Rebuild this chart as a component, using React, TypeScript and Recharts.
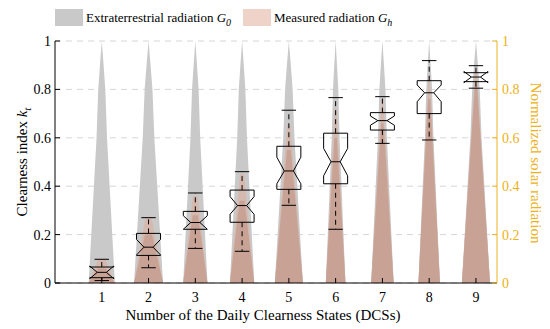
import React from 'react';
import { ComposedChart, Area, Bar, XAxis, YAxis, CartesianGrid } from 'recharts';

// DCS categories
const categories = [1, 2, 3, 4, 5, 6, 7, 8, 9];

// notched box plot of the clearness index per DCS
const whiskerLow = [0.01, 0.063, 0.143, 0.131, 0.321, 0.222, 0.577, 0.591, 0.805];
const q1 = [0.022, 0.114, 0.222, 0.251, 0.387, 0.41, 0.632, 0.7, 0.832];
const median = [0.044, 0.148, 0.25, 0.32, 0.463, 0.501, 0.671, 0.786, 0.851];
const q3 = [0.066, 0.205, 0.296, 0.384, 0.565, 0.619, 0.704, 0.836, 0.869];
const whiskerHigh = [0.098, 0.27, 0.372, 0.46, 0.714, 0.766, 0.77, 0.919, 0.898];
const notchLow = [0.018, 0.116, 0.222, 0.284, 0.41, 0.443, 0.652, 0.749, 0.828];
const notchHigh = [0.07, 0.18, 0.278, 0.357, 0.52, 0.556, 0.69, 0.818, 0.874];

// daily radiation profiles (half day length in x units)
const dayHalfWidth = [0.28, 0.31, 0.26, 0.26, 0.3, 0.21, 0.24, 0.23, 0.3];
const profileHeights = [0, 0.2, 0.4, 0.6, 0.8, 0.9, 1];
const profileWidthShare = [1, 0.8, 0.6, 0.4, 0.27, 0.14, 0];
const measuredPeak = [0.06, 0.2, 0.28, 0.34, 0.55, 0.6, 0.66, 0.76, 0.82];
const measuredUpperPeak = [0.1, 0.27, 0.36, 0.45, 0.65, 0.72, 0.76, 0.85, 0.88];
const measuredTopShare = [0.3, 0.3, 0.3, 0.3, 0.3, 0.3, 0.3, 0.4, 0.4];

const yTicks = [0, 0.2, 0.4, 0.6, 0.8, 1];

const FONT = '"Liberation Serif", "Times New Roman", serif';
const ORANGE = '#EDB120';
const BOX_W = 24;

const boxData = categories.map((c, i) => ({
  x: c,
  range: [whiskerLow[i], whiskerHigh[i]],
  wl: whiskerLow[i],
  q1: q1[i],
  med: median[i],
  q3: q3[i],
  wh: whiskerHigh[i],
  nl: notchLow[i],
  nh: notchHigh[i],
}));

const extraData: { x: number; g: number }[] = [];
categories.forEach((c, i) => {
  const w = dayHalfWidth[i];
  profileHeights.forEach((h, j) => extraData.push({ x: c - w * profileWidthShare[j], g: h }));
  for (let j = profileHeights.length - 2; j >= 0; j--) {
    extraData.push({ x: c + w * profileWidthShare[j], g: profileHeights[j] });
  }
});

function measuredShape(peaks: number[]) {
  const out: { x: number; g: number }[] = [];
  categories.forEach((c, i) => {
    const w = dayHalfWidth[i];
    const t = w * measuredTopShare[i] * (1 - peaks[i]);
    out.push({ x: c - w, g: 0 });
    out.push({ x: c - t, g: peaks[i] });
    out.push({ x: c + t, g: peaks[i] });
    out.push({ x: c + w, g: 0 });
  });
  return out;
}
const measuredData = measuredShape(measuredPeak);
const measuredUpperData = measuredShape(measuredUpperPeak);

function NotchBox(props: any) {
  const { x, y, width, height, payload } = props;
  if (!payload) return null;
  const top = Math.min(y, y + height);
  const span = Math.abs(height);
  const k = span / (payload.wh - payload.wl);
  const py = (v: number) => top + (payload.wh - v) * k;
  const cx = x + width / 2;
  const l = cx - BOX_W / 2;
  const r = cx + BOX_W / 2;
  const inset = BOX_W * 0.31;
  const cap = BOX_W * 0.3;
  const pts = [
    [l, py(payload.q3)],
    [l, py(payload.nh)],
    [l + inset, py(payload.med)],
    [l, py(payload.nl)],
    [l, py(payload.q1)],
    [r, py(payload.q1)],
    [r, py(payload.nl)],
    [r - inset, py(payload.med)],
    [r, py(payload.nh)],
    [r, py(payload.q3)],
  ]
    .map((p) => p.join(','))
    .join(' ');
  return (
    <g>
      <line x1={cx} x2={cx} y1={py(payload.q3)} y2={py(payload.wh)} stroke="#000" strokeDasharray="5 4" />
      <line x1={cx} x2={cx} y1={py(payload.q1)} y2={py(payload.wl)} stroke="#000" strokeDasharray="5 4" />
      <line x1={cx - cap} x2={cx + cap} y1={py(payload.wh)} y2={py(payload.wh)} stroke="#000" />
      <line x1={cx - cap} x2={cx + cap} y1={py(payload.wl)} y2={py(payload.wl)} stroke="#000" />
      <polygon points={pts} fill="none" stroke="#000" />
      <line x1={l + inset} x2={r - inset} y1={py(payload.med)} y2={py(payload.med)} stroke="#000" />
    </g>
  );
}

const BottomTick = (props: any) => {
  const { x, y, payload } = props;
  return (
    <g>
      <line x1={x} x2={x} y1={y} y2={y - 5} stroke="#000" />
      <text x={x} y={y + 19} textAnchor="middle" fontSize={14} fontFamily={FONT} fill="#000">
        {payload.value}
      </text>
    </g>
  );
};

const TopTick = (props: any) => {
  const { x, y } = props;
  return <line x1={x} x2={x} y1={y} y2={y + 5} stroke="#000" />;
};

const LeftTick = (props: any) => {
  const { x, y, payload } = props;
  return (
    <g>
      <line x1={x} x2={x + 5} y1={y} y2={y} stroke="#000" />
      <text x={x - 4} y={y + 5} textAnchor="end" fontSize={14} fontFamily={FONT} fill="#000">
        {payload.value}
      </text>
    </g>
  );
};

const RightTick = (props: any) => {
  const { x, y, payload } = props;
  return (
    <g>
      <line x1={x} x2={x - 5} y1={y} y2={y} stroke={ORANGE} />
      <text x={x + 5} y={y + 5} textAnchor="start" fontSize={14} fontFamily={FONT} fill={ORANGE}>
        {payload.value}
      </text>
    </g>
  );
};

export default function App() {
  return (
    <div style={{ position: 'absolute', left: 0, top: 0, width: 550, height: 329, background: '#fff' }}>
      <ComposedChart
        width={550}
        height={329}
        data={boxData}
        margin={{ top: 41, right: 0, bottom: 0, left: 0 }}
      >
        <CartesianGrid yAxisId="left" vertical={false} stroke="#d6d6d6" strokeDasharray="6 5" />
        <XAxis
          dataKey="x"
          type="number"
          domain={[0, 9.45]}
          ticks={categories}
          height={46}
          stroke="#000"
          tickSize={0}
          tickMargin={0}
          tickLine={false}
          tick={<BottomTick />}
          allowDataOverflow
        />
        <XAxis
          xAxisId="top"
          dataKey="x"
          type="number"
          orientation="top"
          domain={[0, 9.45]}
          ticks={categories}
          height={0}
          stroke="#000"
          tickSize={0}
          tickMargin={0}
          tickLine={false}
          tick={<TopTick />}
          allowDataOverflow
        />
        <YAxis
          yAxisId="left"
          domain={[0, 1]}
          ticks={yTicks}
          width={55}
          stroke="#000"
          tickSize={0}
          tickMargin={0}
          tickLine={false}
          tick={<LeftTick />}
        />
        <YAxis
          yAxisId="right"
          orientation="right"
          domain={[0, 1]}
          ticks={yTicks}
          width={53}
          stroke={ORANGE}
          tickSize={0}
          tickMargin={0}
          tickLine={false}
          tick={<RightTick />}
        />
        <Area
          yAxisId="right"
          data={extraData}
          dataKey="g"
          type="linear"
          fill="#c9c9c9"
          fillOpacity={1}
          stroke="none"
          isAnimationActive={false}
          dot={false}
          activeDot={false}
        />
        <Area
          yAxisId="right"
          data={measuredUpperData}
          dataKey="g"
          type="linear"
          fill="#d5b9ae"
          fillOpacity={1}
          stroke="none"
          isAnimationActive={false}
          dot={false}
          activeDot={false}
        />
        <Area
          yAxisId="right"
          data={measuredData}
          dataKey="g"
          type="linear"
          fill="#c8a295"
          fillOpacity={1}
          stroke="none"
          isAnimationActive={false}
          dot={false}
          activeDot={false}
        />
        <Bar
          yAxisId="left"
          dataKey="range"
          barSize={24}
          shape={<NotchBox />}
          isAnimationActive={false}
        />
      </ComposedChart>
      <svg width={550} height={329} style={{ position: 'absolute', left: 0, top: 0, pointerEvents: 'none' }}>
        <rect x={55} y={9} width={28} height={17} fill="#c9c9c9" />
        <text x={86} y={22} fontSize={13} fontFamily={FONT} fill="#000">
          Extraterrestrial radiation <tspan fontStyle="italic">G</tspan>
          <tspan fontStyle="italic" fontSize={10} dy={4}>0</tspan>
        </text>
        <rect x={243} y={9} width={28} height={17} fill="#efd3c9" />
        <text x={274} y={22} fontSize={13} fontFamily={FONT} fill="#000">
          Measured radiation <tspan fontStyle="italic">G</tspan>
          <tspan fontStyle="italic" fontSize={10} dy={4}>h</tspan>
        </text>
        <text x={263} y={320} textAnchor="middle" fontSize={15} fontFamily={FONT} fill="#000">
          Number of the Daily Clearness States (DCSs)
        </text>
        <text
          x={27}
          y={162}
          textAnchor="middle"
          fontSize={15}
          fontFamily={FONT}
          fill="#000"
          transform="rotate(-90, 27, 162)"
        >
          Clearness index <tspan fontStyle="italic">k</tspan>
          <tspan fontStyle="italic" fontSize={11} dy={4}>t</tspan>
        </text>
        <text
          x={531}
          y={163}
          textAnchor="middle"
          fontSize={15}
          fontFamily={FONT}
          fill={ORANGE}
          transform="rotate(90, 531, 163)"
        >
          Normalized solar radiation
        </text>
      </svg>
    </div>
  );
}
